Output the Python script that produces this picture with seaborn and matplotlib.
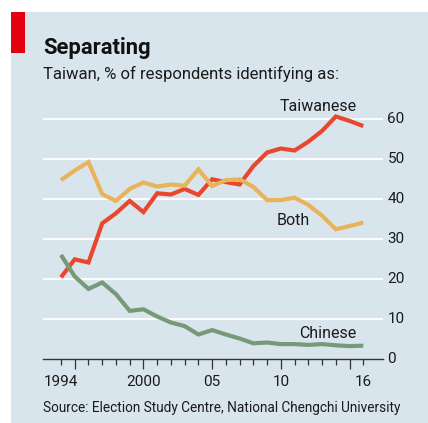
import matplotlib
matplotlib.use("Agg")
import matplotlib.pyplot as plt
import seaborn as sns
import pandas as pd
import numpy as np
from matplotlib.patches import Rectangle
from matplotlib.ticker import FixedLocator

years = list(range(1994, 2017))
taiwanese = [20.5, 25.0, 24.2, 34.0, 36.5, 39.6, 36.8, 41.5, 41.2, 42.6, 41.1, 45.0, 44.3, 43.7,
             48.3, 51.7, 52.7, 52.2, 54.4, 57.1, 60.7, 59.6, 58.3]
both = [44.8, 47.2, 49.3, 41.3, 39.6, 42.6, 44.2, 43.2, 43.7, 43.4, 47.5, 43.3, 44.8, 45.0,
        43.1, 39.8, 39.8, 40.4, 38.6, 35.9, 32.5, 33.3, 34.2]
chinese = [26.1, 20.7, 17.6, 19.2, 16.3, 12.1, 12.5, 10.7, 9.2, 8.3, 6.2, 7.3, 6.2, 5.2,
           4.0, 4.2, 3.8, 3.8, 3.6, 3.8, 3.5, 3.3, 3.4]
series_names = ["Taiwanese", "Both", "Chinese"]
series_colors = ["#e9472d", "#e9b35a", "#769a78"]
ytick_values = [0, 10, 20, 30, 40, 50, 60]
xtick_labels = {1994: "1994", 2000: "2000", 2005: "05", 2010: "10", 2016: "16"}

df = pd.DataFrame({"year": years, "Taiwanese": taiwanese, "Both": both, "Chinese": chinese})
long = df.melt(id_vars="year", var_name="group", value_name="pct")

FONT = ["Roboto", "DejaVu Sans"]
plt.rcParams["font.family"] = FONT

W, H = 428, 423
fig = plt.figure(figsize=(W / 100, H / 100), dpi=100, facecolor="white")
BG = "#d9e5ed"
fig.patches.append(Rectangle((11 / W, 0), 1 - 11 / W, 1 - 12 / H, transform=fig.transFigure,
                             facecolor=BG, edgecolor="none", zorder=-2))
fig.patches.append(Rectangle((11 / W, 1 - 53 / H), 14 / W, 41 / H, transform=fig.transFigure,
                             facecolor="#e3000f", edgecolor="none", zorder=-1))

ax_left, ax_right = 43 / W, 383 / W
ax_bottom = (H - 359.3) / H
ax_top = (H - 99.3) / H
ax = fig.add_axes([ax_left, ax_bottom, ax_right - ax_left, ax_top - ax_bottom])
ax.set_facecolor("none")
ax.set_zorder(2)

sns.lineplot(data=long, x="year", y="pct", hue="group", hue_order=series_names,
             palette=series_colors, linewidth=3.0, ax=ax, legend=False, zorder=3)
for line in ax.lines:
    line.set_solid_joinstyle("miter")
    line.set_solid_capstyle("butt")

px_per_year = 13.74
ax.set_xlim(1994 - 18 / px_per_year, 1994 + (383 - 61) / px_per_year)
ax.set_ylim(0, 65)

for v in ytick_values[1:]:
    ax.axhline(v, color="white", linewidth=1.3, zorder=1)

for s in ["top", "left", "right"]:
    ax.spines[s].set_visible(False)
ax.spines["bottom"].set_color("#333333")
ax.spines["bottom"].set_linewidth(1.0)
ax.spines["bottom"].set_zorder(4)

ax.xaxis.set_major_locator(FixedLocator([1995, 2000, 2005, 2010, 2015]))
ax.xaxis.set_minor_locator(FixedLocator(years))
ax.tick_params(axis="x", which="major", length=7.5, width=0.9, color="#333333", labelbottom=False)
ax.tick_params(axis="x", which="minor", length=4, width=0.9, color="#333333")
ax.set_xlabel("")
ax.set_ylabel("")
ax.set_yticks([])

for yr, lab in xtick_labels.items():
    ax.text(yr, -3.8, lab, ha="center", va="top", fontsize=11, color="#1a1a1a", clip_on=False)
for v in ytick_values:
    ax.text(2017.75, v, str(v), ha="left", va="center", fontsize=11, color="#1a1a1a", clip_on=False)

ax.text(2015.5, 63.3, "Taiwanese", ha="right", va="center", fontsize=11.5, color="#1a1a1a")
ax.text(2012.1, 34.8, "Both", ha="right", va="center", fontsize=11.5, color="#1a1a1a")
ax.text(2015.5, 6.5, "Chinese", ha="right", va="center", fontsize=11.5, color="#1a1a1a")

fig.text(43 / W, 1 - 54 / H, "Separating", ha="left", va="baseline", fontsize=15.8,
         fontweight="bold", color="#111111")
fig.text(43 / W, 1 - 78.5 / H, "Taiwan, % of respondents identifying as:", ha="left",
         va="baseline", fontsize=12.0, color="#1a1a1a")
fig.text(43 / W, 1 - 412 / H, "Source: Election Study Centre, National Chengchi University",
         ha="left", va="baseline", fontsize=9.8, color="#1a1a1a")

fig.savefig("out.png", dpi=100, facecolor="white")
